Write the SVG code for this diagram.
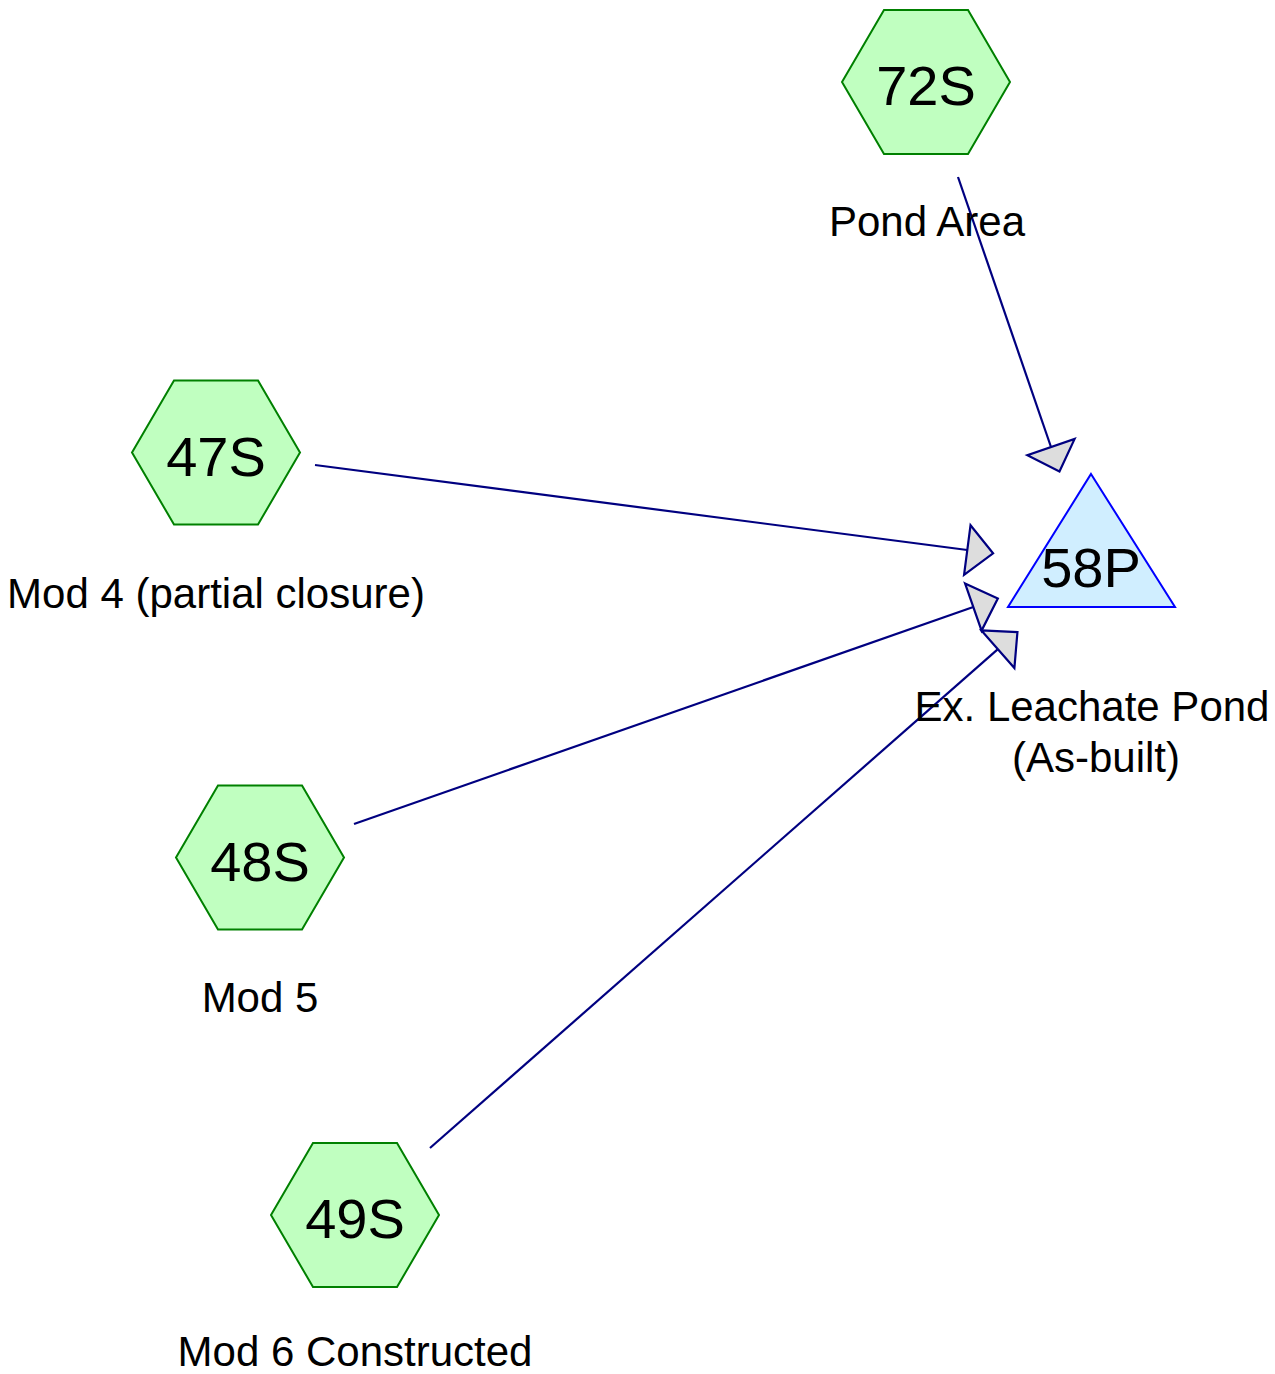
<svg xmlns="http://www.w3.org/2000/svg" width="1275" height="1374" viewBox="0 0 1275 1374">
  <defs>
    <style>
      .hex { fill: #c0ffc0; stroke: #008000; stroke-width: 2; }
      .pond { fill: #d0eeff; stroke: #0000ff; stroke-width: 2; }
      .id { font-family: "Liberation Sans", Arial, sans-serif; font-size: 56px; fill: #000; text-anchor: middle; }
      .lbl { font-family: "Liberation Sans", Arial, sans-serif; font-size: 42px; fill: #000; text-anchor: middle; }
      .edge { fill: none; stroke: #000080; stroke-width: 2.2; marker-end: url(#arrow); }
    </style>
    <marker id="arrow" markerUnits="userSpaceOnUse" viewBox="-3 -28 32 56" markerWidth="32" markerHeight="56" refX="0" refY="0" orient="auto" overflow="visible">
      <path d="M0,-25 L26,0 L0,25 Z" fill="#dddddd" stroke="#000080" stroke-width="2.2" stroke-linejoin="miter"/>
    </marker>
  </defs>
  <rect width="1275" height="1374" fill="#ffffff"/>

  <g id="connectors">
    <line class="edge" x1="958" y1="177" x2="1051" y2="447"/>
    <line class="edge" x1="315" y1="465" x2="967.3" y2="550"/>
    <line class="edge" x1="354" y1="824" x2="973.3" y2="607"/>
    <line class="edge" x1="430" y1="1148" x2="997.9" y2="649.2"/>
  </g>

  <g id="node-72S">
    <polygon class="hex" points="842,82 884,10 968,10 1010,82 968,154 884,154"/>
    <text class="id" x="926" y="105">72S</text>
    <text class="lbl" x="927" y="236">Pond Area</text>
  </g>

  <g id="node-47S">
    <polygon class="hex" points="132,452.5 174,380.5 258,380.5 300,452.5 258,524.5 174,524.5"/>
    <text class="id" x="216" y="475.5">47S</text>
    <text class="lbl" x="216" y="608">Mod 4 (partial closure)</text>
  </g>

  <g id="node-48S">
    <polygon class="hex" points="176,857.5 218,785.5 302,785.5 344,857.5 302,929.5 218,929.5"/>
    <text class="id" x="260" y="880.5">48S</text>
    <text class="lbl" x="260" y="1012">Mod 5</text>
  </g>

  <g id="node-49S">
    <polygon class="hex" points="271,1215 313,1143 397,1143 439,1215 397,1287 313,1287"/>
    <text class="id" x="355" y="1238">49S</text>
    <text class="lbl" x="355" y="1366">Mod 6 Constructed</text>
  </g>

  <g id="node-58P">
    <polygon class="pond" points="1091,474 1175,607 1008,607"/>
    <text class="id" x="1091" y="587">58P</text>
    <text class="lbl" x="1092" y="721">Ex. Leachate Pond</text>
    <text class="lbl" x="1096" y="772">(As-built)</text>
  </g>
</svg>
